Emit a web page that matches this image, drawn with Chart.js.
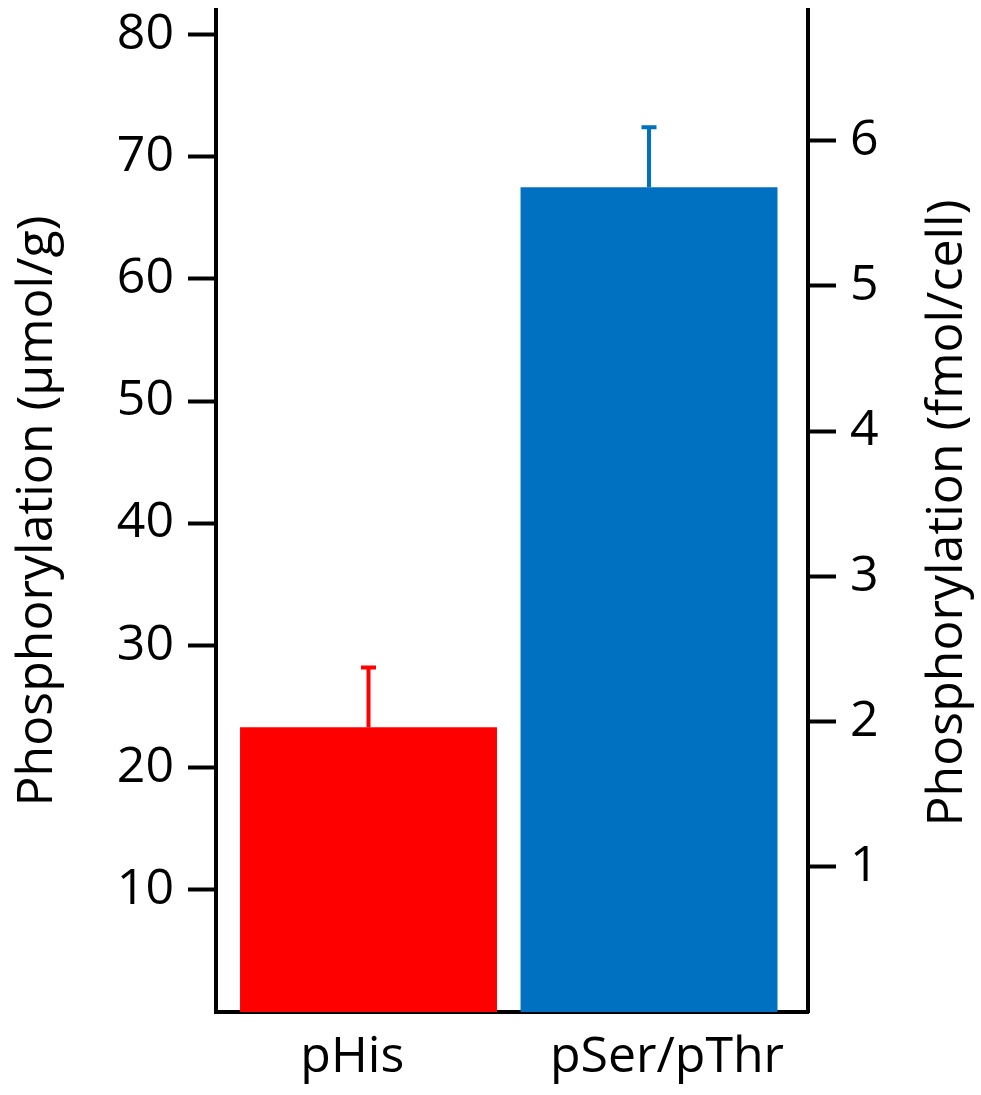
<!DOCTYPE html>
<html>
<head>
<meta charset="utf-8">
<script src="https://cdn.jsdelivr.net/npm/chart.js@4"></script>
<style>
  body { margin: 0; background: #fff; }
  canvas { display: block; }
</style>
</head>
<body>
<canvas id="grafico" width="981" height="1095"></canvas>
<script>
// Dados
const categorias = ['pHis', 'pSer/pThr'];
const valores = [23.3, 67.5];          // µmol/g
const erros = [4.9, 4.9];              // barra de erro (só para cima)
const cores = ['#ff0000', '#0070c0'];
const ticksEsquerda = [10, 20, 30, 40, 50, 60, 70, 80];
const ticksDireita = [1, 2, 3, 4, 5, 6];

const fonte = { family: '"Open Sans", sans-serif', size: 50 };

// Plugin para desenhar as barras de erro e o título do eixo direito
const extras = {
  id: 'extras',
  afterDatasetsDraw(chart) {
    const ctx = chart.ctx;
    const xs = chart.scales.xb;
    const ys = chart.scales.y;
    ctx.save();
    ctx.lineWidth = 4;
    valores.forEach((v, i) => {
      const x = xs.getPixelForValue(i);
      const yBase = ys.getPixelForValue(v);
      const yTop = ys.getPixelForValue(v + erros[i]);
      ctx.strokeStyle = cores[i];
      ctx.beginPath();
      ctx.moveTo(x, yBase);
      ctx.lineTo(x, yTop);
      ctx.moveTo(x - 7.5, yTop);
      ctx.lineTo(x + 7.5, yTop);
      ctx.stroke();
    });
    ctx.restore();
  },
  afterDraw(chart) {
    const ctx = chart.ctx;
    const area = chart.chartArea;
    ctx.save();
    ctx.fillStyle = '#000';
    ctx.font = '50px "Open Sans", sans-serif';
    ctx.textAlign = 'center';
    ctx.textBaseline = 'alphabetic';
    ctx.translate(962, (area.top + area.bottom) / 2 + 2);
    ctx.rotate(-Math.PI / 2);
    ctx.fillText('Phosphorylation (fmol/cell)', 0, 0);
    ctx.restore();
  }
};

function semPaddingVertical(s, largura) {
  s.width = largura;
  s.paddingTop = 0;
  s.paddingBottom = 0;
}

new Chart(document.getElementById('grafico').getContext('2d'), {
  type: 'bar',
  data: {
    datasets: [{
      data: valores.map((v, i) => ({ x: i, y: v })),
      backgroundColor: cores,
      borderWidth: 0,
      xAxisID: 'xb',
      yAxisID: 'y',
      categoryPercentage: 1,
      barPercentage: 0.916
    }]
  },
  options: {
    responsive: false,
    animation: false,
    layout: { padding: { top: 10, left: 0, right: 0, bottom: 0 } },
    plugins: { legend: { display: false }, tooltip: { enabled: false } },
    scales: {
      // eixo invisível que posiciona as barras
      xb: {
        type: 'linear',
        display: false,
        offset: false,
        min: -0.5437,
        max: 1.5668,
        afterBuildTicks: (s) => { s.ticks = valores.map((v, i) => ({ value: i })); }
      },
      // eixo visível com os rótulos das categorias
      x: {
        type: 'linear',
        position: 'bottom',
        offset: false,
        min: -0.433,
        max: 1.448,
        afterBuildTicks: (s) => { s.ticks = categorias.map((c, i) => ({ value: i })); },
        afterFit: (s) => { s.height = 83; s.paddingLeft = 0; s.paddingRight = 0; },
        grid: { display: false, drawTicks: false, offset: false },
        border: { display: true, color: '#000', width: 4 },
        ticks: {
          color: '#000',
          font: fonte,
          padding: 16,
          maxRotation: 0,
          autoSkip: false,
          callback: (v) => categorias[v]
        }
      },
      y: {
        position: 'left',
        min: 0,
        max: 82,
        afterBuildTicks: (s) => { s.ticks = ticksEsquerda.map(v => ({ value: v })); },
        afterFit: (s) => semPaddingVertical(s, 216),
        grid: { drawOnChartArea: false, drawTicks: true, tickLength: 28, tickWidth: 4, tickColor: '#000' },
        border: { display: true, color: '#000', width: 4 },
        ticks: { color: '#000', font: fonte, padding: 14 },
        title: {
          display: true,
          text: 'Phosphorylation (µmol/g)',
          color: '#000',
          font: fonte,
          padding: { top: 8, bottom: 0 }
        }
      },
      y2: {
        position: 'right',
        min: 0,
        max: 6.9,
        afterBuildTicks: (s) => { s.ticks = ticksDireita.map(v => ({ value: v })); },
        afterFit: (s) => semPaddingVertical(s, 173),
        grid: { drawOnChartArea: false, drawTicks: true, tickLength: 28, tickWidth: 4, tickColor: '#000' },
        border: { display: true, color: '#000', width: 4 },
        ticks: { color: '#000', font: fonte, padding: 14 }
      }
    }
  },
  plugins: [extras]
});
</script>
</body>
</html>
